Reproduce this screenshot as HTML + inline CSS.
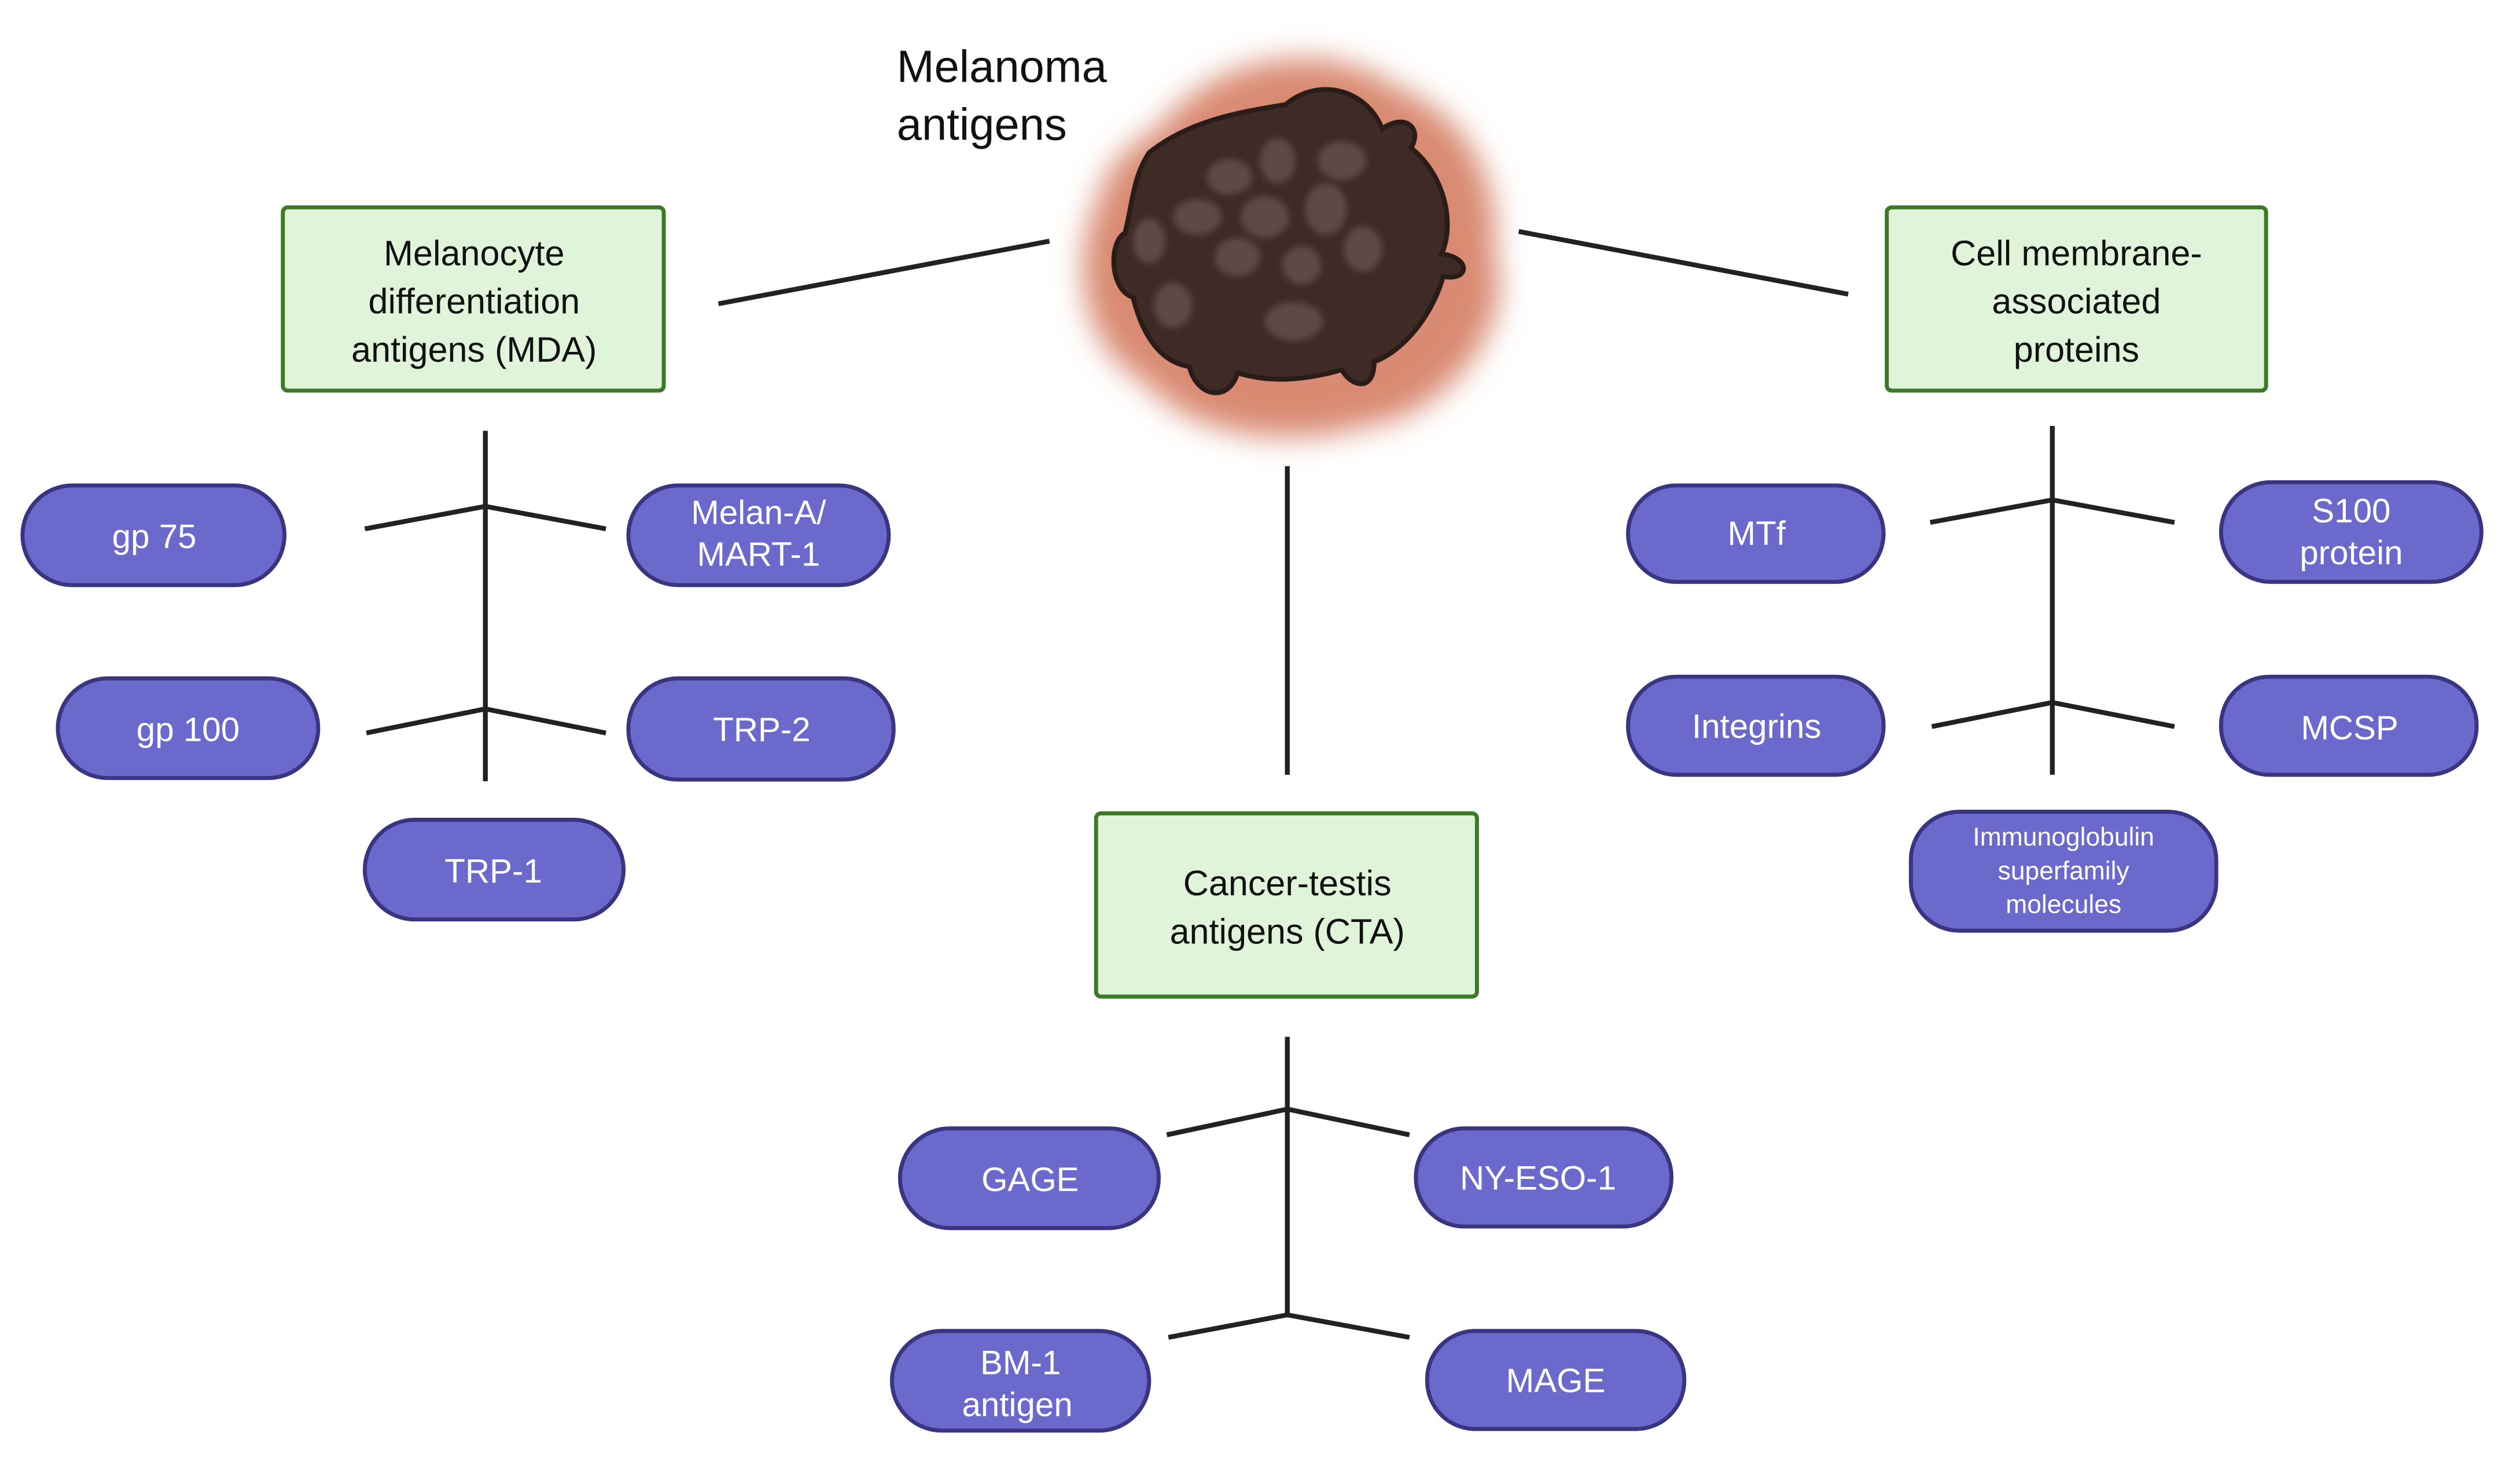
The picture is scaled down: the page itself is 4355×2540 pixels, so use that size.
<!DOCTYPE html>
<html><head><meta charset="utf-8"><style>html,body{margin:0;padding:0;background:#fff}svg{display:block}</style></head>
<body>
<svg xmlns="http://www.w3.org/2000/svg" width="4355" height="2540" viewBox="0 0 1568 914.5">
<defs>
<filter id="bl" x="-30%" y="-30%" width="160%" height="160%"><feGaussianBlur stdDeviation="9"/></filter>
<filter id="bl2"><feGaussianBlur stdDeviation="2"/></filter>
</defs>
<rect width="1568" height="915" fill="#fff"/>
<g font-family="'Liberation Sans', sans-serif">
<path d="M720,80 C760,30 830,25 870,55 C910,70 935,110 930,160 C945,200 900,260 850,265 C800,280 740,270 715,240 C670,215 665,160 685,120 C690,100 705,90 720,80 Z" fill="#d98a72" filter="url(#bl)"/>
<path d="M715,95 C740,75 770,70 800,65 C820,48 850,55 860,80 C875,70 885,80 878,92 C900,110 905,140 897,158 C915,160 915,175 898,172 C890,200 870,220 855,225 C855,245 840,240 835,230 C800,240 780,235 770,232 C765,250 745,248 740,228 C720,225 710,205 705,185 C690,180 690,150 700,145 C705,125 705,110 715,95 Z" fill="#3f2b25" stroke="#2a1c18" stroke-width="3"/>
<g fill="#5d4a44" filter="url(#bl2)">
<ellipse cx="765" cy="110" rx="14" ry="11"/><ellipse cx="795" cy="100" rx="11" ry="14"/><ellipse cx="835" cy="100" rx="15" ry="12"/>
<ellipse cx="745" cy="135" rx="15" ry="11"/><ellipse cx="787" cy="135" rx="15" ry="13"/><ellipse cx="825" cy="130" rx="13" ry="16"/>
<ellipse cx="770" cy="160" rx="14" ry="12"/><ellipse cx="810" cy="165" rx="12" ry="12"/><ellipse cx="848" cy="155" rx="12" ry="14"/>
<ellipse cx="805" cy="200" rx="18" ry="12"/><ellipse cx="730" cy="190" rx="12" ry="14"/><ellipse cx="715" cy="150" rx="10" ry="14"/>
</g>
<text font-size="28" fill="#111"><tspan x="558" y="51">Melanoma</tspan><tspan x="558" y="87">antigens</tspan></text>
<g stroke="#222" stroke-width="3" fill="none">
<path d="M447,189 L653,150 M945,144 L1150,183 M801,290 V482"/>
<path d="M302,268 V486 M227,329 L302,315 L377,329 M228,456 L302,441 L377,456"/>
<path d="M1277,265 V482 M1201,325 L1277,311 L1353,325 M1202,452 L1277,437 L1353,452"/>
<path d="M801,645 V818 M726,706 L801,690 L877,706 M727,832 L801,818 L877,832"/>
</g>
<g fill="#e0f4da" stroke="#3d7a28" stroke-width="2.5">
<rect x="176" y="129" width="237" height="114" rx="3"/>
<rect x="1174" y="129" width="236" height="114" rx="3"/>
<rect x="682" y="506" width="237" height="114" rx="3"/>
</g>
<g font-size="22" fill="#111" text-anchor="middle" textLength="0">
<text x="295" y="165">Melanocyte</text><text x="295" y="195">differentiation</text><text x="295" y="225">antigens (MDA)</text>
<text x="1292" y="165">Cell membrane-</text><text x="1292" y="195">associated</text><text x="1292" y="225">proteins</text>
<text x="801" y="557">Cancer-testis</text><text x="801" y="587">antigens (CTA)</text>
</g>
<g fill="#6b69cc" stroke="#3a3580" stroke-width="2.5">
<rect x="14" y="302" width="163" height="62" rx="31"/>
<rect x="391" y="302" width="162" height="62" rx="31"/>
<rect x="36" y="422" width="162" height="62" rx="31"/>
<rect x="391" y="422" width="165" height="63" rx="31"/>
<rect x="227" y="510" width="161" height="62" rx="31"/>
<rect x="1013" y="302" width="159" height="60" rx="30"/>
<rect x="1382" y="300" width="162" height="62" rx="31"/>
<rect x="1013" y="421" width="159" height="61" rx="30"/>
<rect x="1382" y="421" width="159" height="61" rx="30"/>
<rect x="1189" y="505" width="190" height="74" rx="30"/>
<rect x="560" y="702" width="161" height="62" rx="31"/>
<rect x="881" y="702" width="159" height="61" rx="30"/>
<rect x="555" y="828" width="160" height="62" rx="31"/>
<rect x="888" y="828" width="160" height="61" rx="30"/>
</g>
<g font-size="21" fill="#fff" text-anchor="middle">
<text x="96" y="341">gp 75</text>
<text x="472" y="326">Melan-A/</text><text x="472" y="352">MART-1</text>
<text x="117" y="461">gp 100</text>
<text x="474" y="461">TRP-2</text>
<text x="307" y="549">TRP-1</text>
<text x="1093" y="339">MTf</text>
<text x="1463" y="325">S100</text><text x="1463" y="351">protein</text>
<text x="1093" y="459">Integrins</text>
<text x="1462" y="460">MCSP</text>
<text x="641" y="741">GAGE</text>
<text x="957" y="740">NY-ESO-1</text>
<text x="635" y="855">BM-1</text><text x="633" y="881">antigen</text>
<text x="968" y="866">MAGE</text>
</g>
<g font-size="16" fill="#fff" text-anchor="middle">
<text x="1284" y="526">Immunoglobulin</text><text x="1284" y="547">superfamily</text><text x="1284" y="568">molecules</text>
</g>
</g>
</svg>
</body></html>
